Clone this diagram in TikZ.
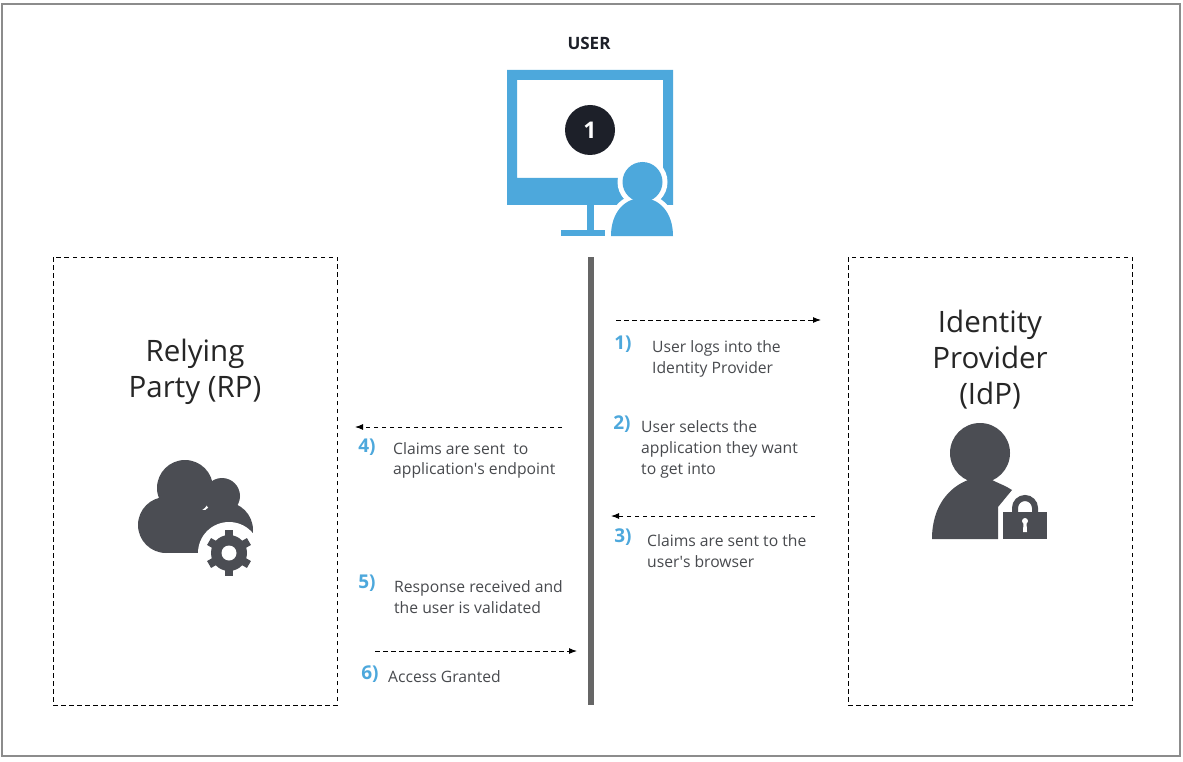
\documentclass[tikz,border=0pt]{standalone}
\usepackage{fontspec}
\setmainfont{Open Sans}
\usetikzlibrary{calc,arrows.meta}
\definecolor{skyblue}{HTML}{4DA8DC}
\definecolor{darkicon}{HTML}{4B4D53}
\definecolor{inkblack}{HTML}{1D2029}
\definecolor{textgray}{HTML}{484A4E}
\begin{document}
\begin{tikzpicture}[x=1pt,y=-1pt,
    party/.style={draw=black,line width=.95pt,dash pattern=on 4.5pt off 3.5pt},
    title/.style={font=\fontsize{29.5}{36}\selectfont,align=center,text=black!85},
    steptext/.style={font=\fontsize{15.7}{20.8}\selectfont,align=left,anchor=west,text=textgray,inner sep=0pt},
    stepnum/.style={font=\fontsize{19}{20}\selectfont\bfseries,text=skyblue,anchor=center,inner sep=0pt},
    arrow/.style={-{Latex[length=8pt,width=6pt]},line width=1pt,dash pattern=on 4.5pt off 3.5pt}]
  \useasboundingbox (0,0) rectangle (1183,762);
  \fill[white] (0,0) rectangle (1183,762);
  \draw[black!45,line width=1.5pt] (2,4) rectangle (1180,756);

  % user icon
  \node[font=\fontsize{17}{18}\selectfont\bfseries,text=inkblack] (user) at (589,43) {USER};
  \fill[skyblue,even odd rule] (507,70) rectangle (673,205) (517,80) rectangle (663,178);
  \fill[skyblue] (587,205) rectangle (594,232);
  \fill[skyblue] (561,230) rectangle (605,236);
  \fill[inkblack] (590,130) circle (25pt);
  \node[font=\fontsize{23}{24}\selectfont\bfseries,text=white] (one) at (590,130) {1};
  \fill[white] (642.5,182) circle (25pt);
  \filldraw[draw=white,fill=skyblue,line width=9pt,line join=round] (611,236) .. controls (611,212) and (625,198) .. (642,198)
    .. controls (659,198) and (673,212) .. (673,236) -- cycle;
  \fill[skyblue] (611,236) .. controls (611,212) and (625,198) .. (642,198)
    .. controls (659,198) and (673,212) .. (673,236) -- cycle;
  \fill[skyblue] (642.5,182) circle (20pt);

  \fill[black!60] (588,257) rectangle (594,705);

  % relying party
  \draw[party] (53,257) rectangle (337,705);
  \node[title] (rp) at (195,372) {Relying\\Party (RP)};
  \fill[darkicon] (166,525) circle (28pt);
  \fill[darkicon] (185,488) circle (28pt);
  \fill[darkicon] (222,496) circle (18pt);
  \fill[darkicon] (225,530) circle (28pt);
  \fill[darkicon] (166,510) rectangle (225,553);
  \fill[white] (229,553) circle (31pt);
  \coordinate (gear) at (229,553);
  \fill[darkicon] (gear) circle (18pt);
  \foreach \a in {30,90,...,330}
    \draw[darkicon,line width=8pt] ($(gear)+(\a:12pt)$) -- ($(gear)+(\a:23pt)$);
  \fill[white] (gear) circle (7.5pt);

  % identity provider
  \draw[party] (848,257) rectangle (1132,705);
  \node[title] (idp) at (990,360) {Identity\\Provider\\(IdP)};
  \fill[darkicon] (980,453) circle (30pt);
  \fill[darkicon] (932,539) .. controls (932,505) and (950,487) .. (968,480) -- (992,480)
    .. controls (1000,484) and (1006,486) .. (1012,490) -- (998,507) -- (998,539) -- cycle;
  \fill[darkicon] (1003,512) rectangle (1047,539);
  \draw[darkicon,line width=6pt] (1015,512) -- (1015,508) arc[start angle=180,end angle=0,radius=10pt] -- (1035,512);
  \fill[white] (1025,521) circle (3pt);
  \fill[white] (1023.5,522) -- (1026.5,522) -- (1027,532) -- (1023,532) -- cycle;

  % steps on the right
  \coordinate (a1) at (616,320); \coordinate (b1) at (821,320);
  \coordinate (a3) at (815,516); \coordinate (b3) at (611,516);
  \coordinate (a4) at (562,427); \coordinate (b4) at (355,427);
  \coordinate (a6) at (375,651); \coordinate (b6) at (577,651);
  \draw[arrow] (a1) -- (b1);
  \draw[arrow] (a3) -- (b3);
  \draw[arrow] (a4) -- (b4);
  \draw[arrow] (a6) -- (b6);

  \node[stepnum] (n1) at (623,344) {1)};
  \node[steptext] (t1) at (652,359) {User logs into the\\Identity Provider};
  \node[stepnum] (n2) at (622,424) {2)};
  \node[steptext] (t2) at (641,449.5) {User selects the\\application they want\\to get into};
  \node[stepnum] (n3) at (623,537) {3)};
  \node[steptext] (t3) at (647,551) {Claims are sent to the\\user\textquotesingle s browser};

  % steps on the left
  \node[stepnum] (n4) at (367,447) {4)};
  \node[steptext] (t4) at (393,460.5) {Claims are sent\ \ to\\application\textquotesingle s endpoint};
  \node[stepnum] (n5) at (367,583) {5)};
  \node[steptext] (t5) at (394,597.5) {Response received and\\the user is validated};
  \node[stepnum] (n6) at (370,674) {6)};
  \node[steptext] (t6) at (388,677) {Access Granted};
\end{tikzpicture}
\end{document}
